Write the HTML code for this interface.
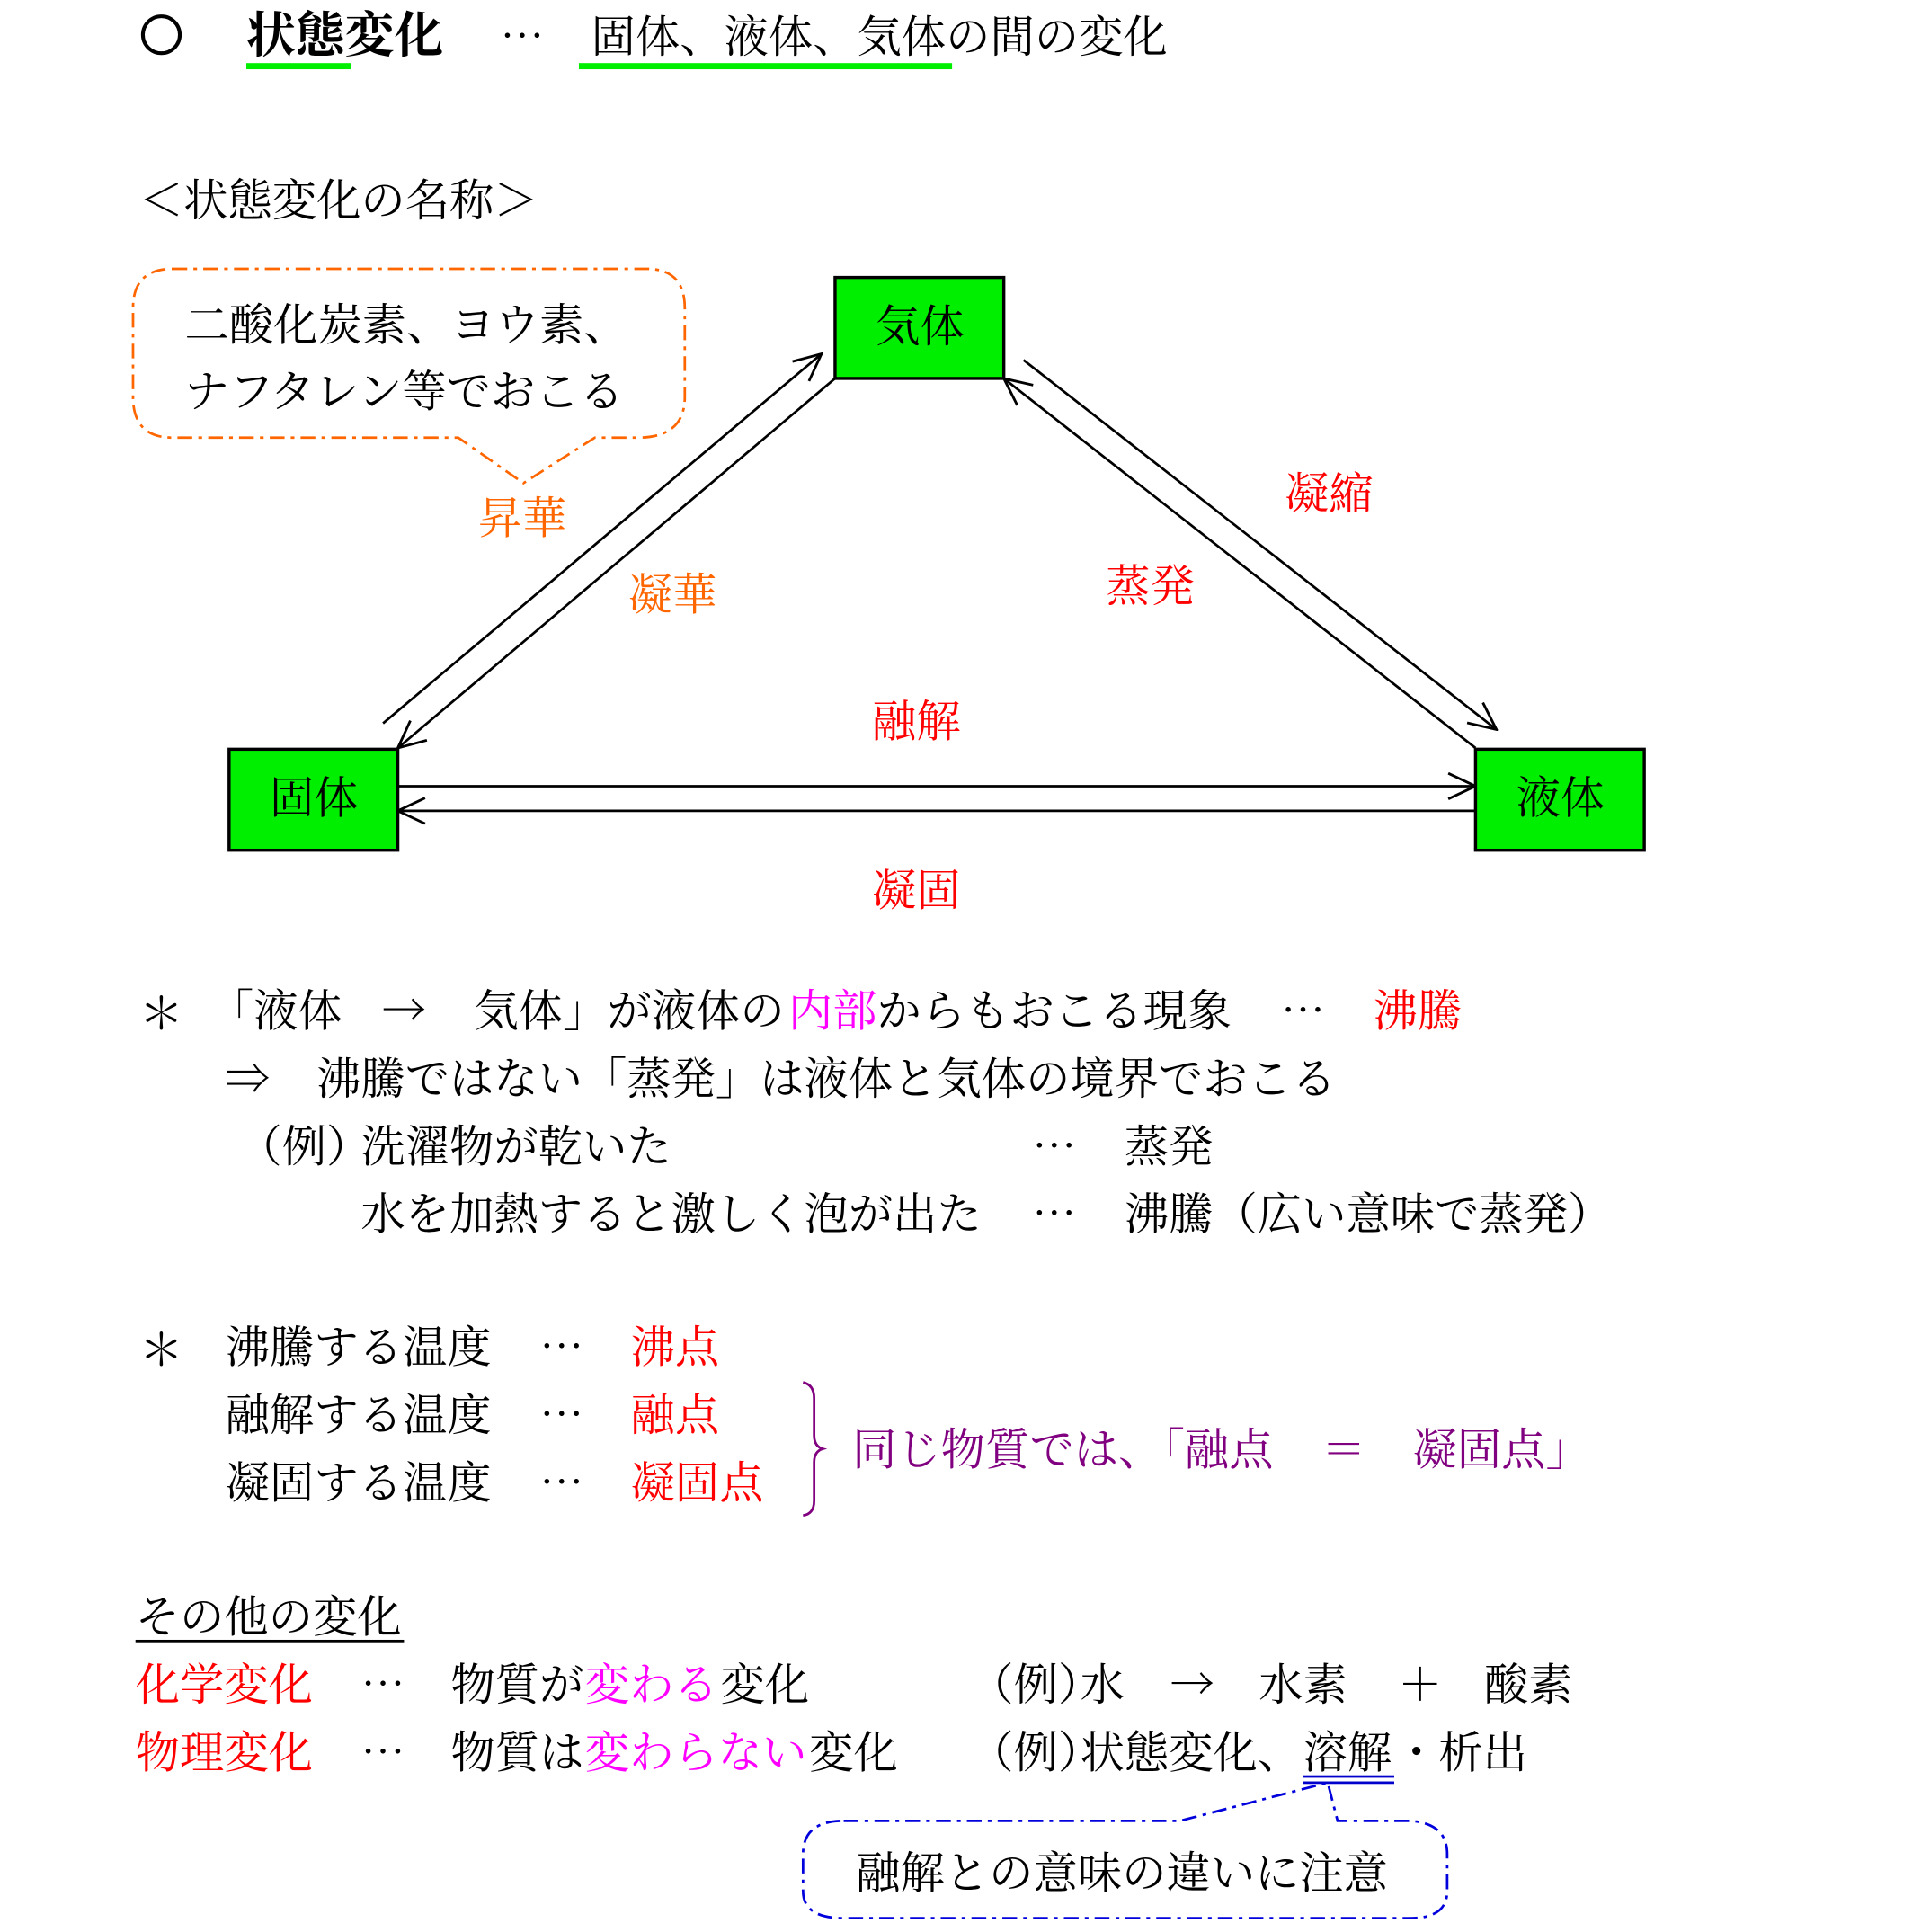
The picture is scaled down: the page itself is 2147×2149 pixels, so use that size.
<!DOCTYPE html>
<html><head><meta charset="utf-8"><style>
html,body{margin:0;padding:0;background:#fff;}
svg{display:block;}
text{font-family:"Liberation Serif","Noto Serif CJK SC","Noto Sans CJK JP",serif;font-size:36px;fill:#000;}
.c{font-family:"Noto Serif CJK SC","Noto Sans CJK JP",serif;}
.r{fill:#ff0000}.o{fill:#ff6600}.m{fill:#ff00ff}.p{fill:#800080}
</style></head><body>
<svg width="2147" height="2149" viewBox="0 0 1567 1568" xmlns="http://www.w3.org/2000/svg">
<defs>
<marker id="a" viewBox="0 0 20 20" refX="19" refY="10" markerWidth="26" markerHeight="26" markerUnits="userSpaceOnUse" orient="auto">
<path d="M2,2 L19,10 L2,18" fill="none" stroke="#000" stroke-width="1.6"/></marker>
</defs>
<circle cx="131" cy="28" r="15" fill="none" stroke="#000" stroke-width="3"/>
<text x="200" y="42" style="font-size:40px;font-weight:bold">状態変化</text>
<text class="c" x="406" y="42">⋯</text>
<text x="480" y="42">固体、液体、気体の間の変化</text>
<rect x="200" y="51" width="85" height="5" fill="#00ee00"/>
<rect x="470" y="51" width="303" height="5" fill="#00ee00"/>
<text x="113" y="175">＜状態変化の名称＞</text>
<path d="M140,218 H525 Q556,218 556,250 V322 Q556,354 520,355 H483 L425,392 L372,355 H140 Q108,355 108,322 V250 Q108,218 140,218 Z" fill="none" stroke="#ff6600" stroke-width="2" stroke-dasharray="12,5,3,5"/>
<text x="150" y="276">二酸化炭素、ヨウ素、</text>
<text x="150" y="330">ナフタレン等でおこる</text>
<rect x="678" y="225" width="137" height="82" fill="#00ee00" stroke="#000" stroke-width="2.5"/>
<rect x="186" y="608" width="137" height="82" fill="#00ee00" stroke="#000" stroke-width="2.5"/>
<rect x="1198" y="608" width="137" height="82" fill="#00ee00" stroke="#000" stroke-width="2.5"/>
<text x="711" y="277">気体</text>
<text x="219" y="660">固体</text>
<text x="1231" y="660">液体</text>
<g stroke="#000" stroke-width="2" fill="none">
<line x1="311" y1="587" x2="667" y2="287" marker-end="url(#a)"/>
<line x1="678" y1="307" x2="323" y2="607" marker-end="url(#a)"/>
<line x1="831" y1="292" x2="1215" y2="592" marker-end="url(#a)"/>
<line x1="1198" y1="607" x2="815" y2="307" marker-end="url(#a)"/>
<line x1="323" y1="638" x2="1198" y2="638" marker-end="url(#a)"/>
<line x1="1198" y1="658" x2="323" y2="658" marker-end="url(#a)"/>
</g>
<text class="o" x="388" y="433">昇華</text>
<text class="o" x="510" y="495">凝華</text>
<text class="r" x="1043" y="413">凝縮</text>
<text class="r" x="898" y="488">蒸発</text>
<text class="r" x="708" y="598">融解</text>
<text class="r" x="708" y="735">凝固</text>
<text x="113" y="835">＊</text>
<text x="170" y="833">「液体</text>
<text class="c" x="310" y="833">→</text>
<text x="385" y="833">気体」が液体の</text>
<text class="m" x="640" y="833">内部</text>
<text x="712" y="833">からもおこる現象</text>
<text class="c" x="1040" y="833">⋯</text>
<text class="r" x="1115" y="833">沸騰</text>
<text x="183" y="888">⇒</text>
<text x="257" y="888">沸騰ではない「蒸発」は液体と気体の境界でおこる</text>
<text x="193" y="943">（例）</text>
<text x="293" y="943">洗濯物が乾いた</text>
<text class="c" x="838" y="943">⋯</text>
<text x="913" y="943">蒸発</text>
<text x="293" y="998">水を加熱すると激しく泡が出た</text>
<text class="c" x="838" y="998">⋯</text>
<text x="913" y="998">沸騰（広い意味で蒸発）</text>
<text x="113" y="1108">＊</text>
<text x="183" y="1106">沸騰する温度</text><text class="c" x="438" y="1106">⋯</text><text class="r" x="512" y="1106">沸点</text>
<text x="183" y="1161">融解する温度</text><text class="c" x="438" y="1161">⋯</text><text class="r" x="512" y="1161">融点</text>
<text x="183" y="1216">凝固する温度</text><text class="c" x="438" y="1216">⋯</text><text class="r" x="512" y="1216">凝固点</text>
<path d="M652,1122 Q661,1124 661,1135 V1165 Q661,1174 668,1176 Q661,1178 661,1187 V1218 Q661,1229 652,1230" fill="none" stroke="#800080" stroke-width="2"/>
<text class="p" x="692" y="1189">同じ物質では、「融点</text>
<text class="p" x="1073" y="1189">＝</text>
<text class="p" x="1147" y="1189">凝固点」</text>
<text x="110" y="1325">その他の変化</text>
<rect x="110" y="1331" width="218" height="2" fill="#000"/>
<text class="r" x="110" y="1380">化学変化</text><text class="c" x="293" y="1380">⋯</text>
<text x="366" y="1380">物質が</text><text class="m" x="475" y="1380">変わる</text><text x="585" y="1380">変化</text>
<text x="787" y="1380">（例）</text><text x="877" y="1380">水</text><text class="c" x="950" y="1380">→</text><text x="1022" y="1380">水素</text><text x="1135" y="1380">＋</text><text x="1205" y="1380">酸素</text>
<text class="r" x="110" y="1435">物理変化</text><text class="c" x="293" y="1435">⋯</text>
<text x="366" y="1435">物質は</text><text class="m" x="475" y="1435">変わらない</text><text x="657" y="1435">変化</text>
<text x="787" y="1435">（例）</text><text x="877" y="1435">状態変化、</text><text x="1058" y="1435">溶解</text><text x="1132" y="1435">・析出</text>
<rect x="1058" y="1441" width="74" height="2" fill="#0000cc"/>
<rect x="1058" y="1446" width="74" height="2" fill="#0000cc"/>
<path d="M685,1478 H958 L1078,1447 L1086,1478 H1145 Q1175,1480 1175,1505 V1535 Q1175,1557 1145,1557 H685 Q652,1557 652,1535 V1505 Q652,1478 685,1478 Z" fill="none" stroke="#0000dd" stroke-width="2" stroke-dasharray="12,5,3,5"/>
<text x="695" y="1533">融解との意味の違いに注意</text>
</svg>
</body></html>
